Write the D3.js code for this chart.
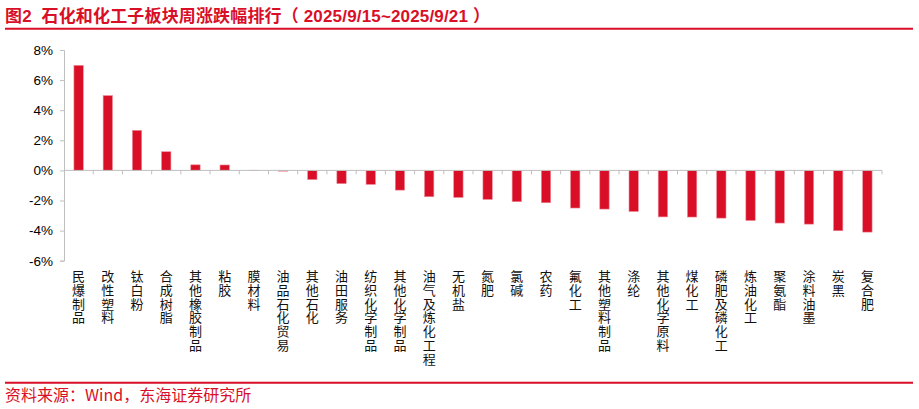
<!DOCTYPE html>
<html>
<head>
<meta charset="utf-8">
<script src="https://cdn.jsdelivr.net/npm/d3@7"></script>
<style>
  html, body { margin: 0; padding: 0; background: #fff; }
  svg { display: block; }
</style>
</head>
<body>
<svg id="chart" width="919" height="409"></svg>
<script>
const titleText = "图2  石化和化工子板块周涨跌幅排行（ 2025/9/15~2025/9/21 ）";
const sourceText = "资料来源：Wind，东海证券研究所";
const categories = ["民爆制品","改性塑料","钛白粉","合成树脂","其他橡胶制品","粘胶","膜材料","油品石化贸易","其他石化","油田服务","纺织化学制品","其他化学制品","油气及炼化工程","无机盐","氮肥","氯碱","农药","氟化工","其他塑料制品","涤纶","其他化学原料","煤化工","磷肥及磷化工","炼油化工","聚氨酯","涂料油墨","炭黑","复合肥"];
const values = [6.98, 4.97, 2.66, 1.24, 0.37, 0.36, 0.01, -0.05, -0.61, -0.88, -0.93, -1.31, -1.75, -1.80, -1.93, -2.08, -2.15, -2.50, -2.57, -2.73, -3.09, -3.10, -3.17, -3.33, -3.50, -3.57, -4.01, -4.10];
const yTicks = [8, 6, 4, 2, 0, -2, -4, -6];

const red = "#d90f27";
const svg = d3.select("#chart");

// title
svg.append("text").attr("x", 5).attr("y", 22)
  .attr("fill", red).attr("font-family", "Arial, 'Liberation Sans', 'Noto Sans CJK SC', sans-serif")
  .attr("font-weight", "bold").attr("font-size", 17)
  .attr("xml:space", "preserve")
  .attr("textLength", 485).attr("lengthAdjust", "spacing")
  .text(titleText);
svg.append("line").attr("x1", 5).attr("x2", 913).attr("y1", 28.7).attr("y2", 28.7)
  .attr("stroke", red).attr("stroke-width", 2);

// footer
svg.append("line").attr("x1", 5).attr("x2", 913).attr("y1", 382.7).attr("y2", 382.7)
  .attr("stroke", red).attr("stroke-width", 2);
svg.append("text").attr("x", 5).attr("y", 401)
  .attr("fill", red).attr("font-family", "'Noto Sans CJK SC', sans-serif")
  .attr("font-size", 16).text(sourceText);

const x0 = 64, x1 = 882;
const x = d3.scaleBand().domain(categories).range([x0, x1]).paddingInner(0.68).paddingOuter(0.34);
const y = d3.scaleLinear().domain([-6, 8]).range([260.7, 50]);

const axisColor = "#bfbfbf";
// y axis
const yAxis = d3.axisLeft(y).tickValues(yTicks).tickFormat(d => d + "%").tickSize(4).tickPadding(7);
const gy = svg.append("g").attr("transform", `translate(${x0},0)`).call(yAxis);
gy.select(".domain").attr("stroke", axisColor);
gy.selectAll(".tick line").attr("stroke", axisColor);
gy.selectAll(".tick text").attr("fill", "#000").attr("font-size", 13.5)
  .attr("font-family", "Arial, 'Liberation Sans', sans-serif");

// bars
svg.append("g").selectAll("rect").data(values).enter().append("rect")
  .attr("x", (d, i) => x(categories[i]))
  .attr("width", x.bandwidth())
  .attr("y", d => y(Math.max(0, d)))
  .attr("height", d => Math.abs(y(d) - y(0)))
  .attr("fill", red)
  .attr("stroke", "#ec8a97").attr("stroke-width", 0.6);

// x axis line at zero with ticks at band boundaries
svg.append("line").attr("x1", x0).attr("x2", x1).attr("y1", y(0)).attr("y2", y(0))
  .attr("stroke", axisColor).attr("stroke-width", 1);
const bounds = d3.range(1, categories.length + 1).map(i => x0 + (x1 - x0) * i / categories.length);
svg.append("g").selectAll("line").data(bounds).enter().append("line")
  .attr("x1", d => d).attr("x2", d => d).attr("y1", y(0)).attr("y2", y(0) + 4)
  .attr("stroke", axisColor);

// vertical category labels: characters stacked top to bottom
const lab = svg.append("g");
categories.forEach(c => {
  const cx = x(c) + x.bandwidth() / 2;
  const t = lab.append("text")
    .attr("font-family", "'Liberation Sans', 'Noto Sans CJK SC', sans-serif").attr("font-size", 13)
    .attr("fill", "#111").attr("text-anchor", "middle");
  Array.from(c).forEach((ch, k) => {
    t.append("tspan").attr("x", cx).attr("y", 281 + k * 13.8).text(ch);
  });
});
</script>
</body>
</html>
